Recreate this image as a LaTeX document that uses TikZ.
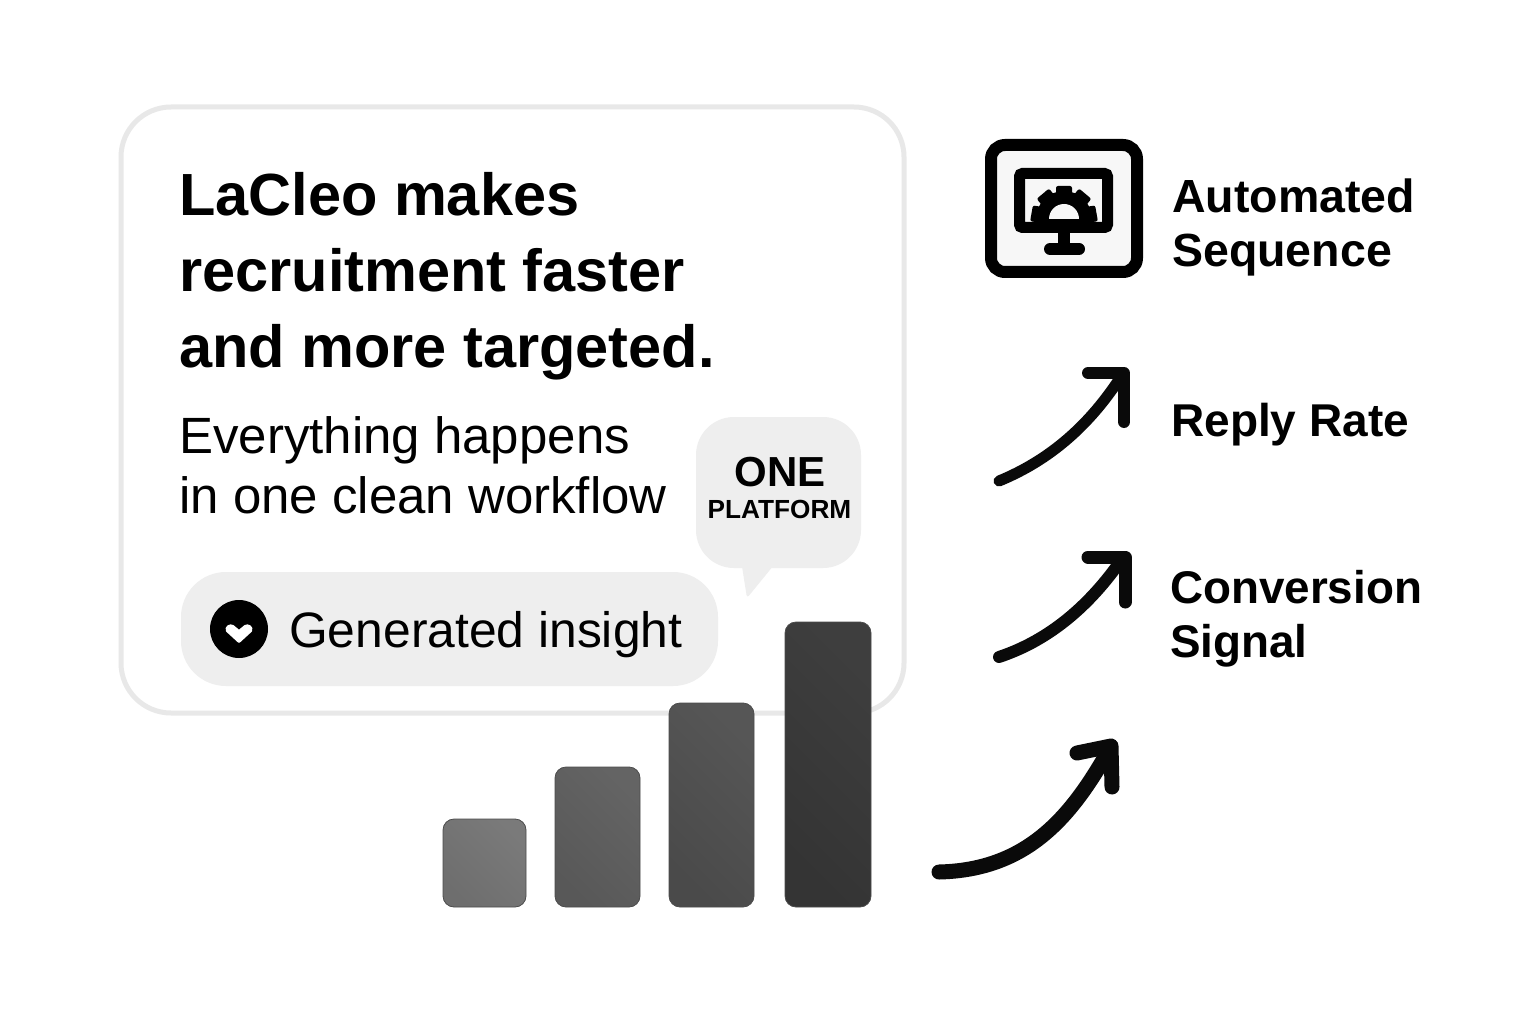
\documentclass[tikz,border=0pt]{standalone}
\usepackage{fontspec}
\setmainfont{Liberation Sans}
\usetikzlibrary{positioning}
\usetikzlibrary{calc}

\definecolor{cardline}{HTML}{E8E8E8}
\definecolor{softfill}{HTML}{EEEEEE}
\definecolor{iconfill}{HTML}{F7F7F7}
\definecolor{inkblack}{HTML}{0A0A0A}

\tikzset{
  headtext/.style={inner sep=0pt, anchor=north west, align=left, font=\fontsize{59.5}{76}\selectfont\bfseries},
  subtext/.style={inner sep=0pt, anchor=north west, align=left, font=\fontsize{51}{60}\selectfont},
  sidetext/.style={inner sep=0pt, anchor=north west, align=left, font=\fontsize{46.5}{54}\selectfont\bfseries},
  softbox/.style={fill=softfill, inner sep=0pt},
  trendline/.style={draw=inkblack, line cap=round, line join=round},
}

\begin{document}
\begin{tikzpicture}[x=1pt, y=-1pt]

	\useasboundingbox (0,0) rectangle (1536,1024);
	\fill[white] (0,0) rectangle (1536,1024);

	% card
	\draw[cardline, line width=5pt, fill=white, rounded corners=50pt] (121,107) rectangle (904,713);

	\node[headtext] (headline) at (179,172) {LaCleo makes\\recruitment faster\\and more targeted.};
	\node[subtext] (subline) at (179,416) {Everything happens\\in one clean workflow};

	% pill
	\node[softbox, rounded corners=45pt, minimum width=537pt, minimum height=114pt] (pill) at (449.5,629) {};
	\node[circle, fill=black, minimum width=58pt, inner sep=0pt] (badge) at (239,629) {};
	\fill[white, draw=white, line width=2pt, line join=round] (239,642) -- (227,631)
		.. controls (225,627) and (230,624) .. (233,626) -- (239,631) -- (245,626)
		.. controls (248,624) and (253,627) .. (251,631) -- cycle;
	\node[inner sep=0pt, anchor=base west, font=\fontsize{49.8}{60}\selectfont] (insight) at (289,647) {Generated insight};

	% speech bubble
	\fill[softfill, rounded corners=3pt] (741,560) -- (747,598) -- (778,560) -- cycle;
	\node[softbox, rounded corners=38pt, minimum width=165pt, minimum height=151pt] (bubble) at (778.5,492.5) {};
	\node[inner sep=0pt, anchor=base, font=\fontsize{42}{48}\selectfont\bfseries] (one) at (780,486) {ONE};
	\node[inner sep=0pt, anchor=base, font=\fontsize{26.2}{32}\selectfont\bfseries] (platform) at (779.5,518) {PLATFORM};

	% bars
	\foreach \xa/\xb/\ya/\ca/\cb in {443/526/819/7A7A7A/6E6E6E, 555/640/767/646464/585858, 669/754/703/565656/4A4A4A, 785/871/622/3E3E3E/343434} {
		\definecolor{barlo}{HTML}{\ca}
		\definecolor{barhi}{HTML}{\cb}
		\shade[left color=barhi, right color=barlo, shading angle=135, rounded corners=11pt] (\xa,\ya) rectangle (\xb,907);
		\draw[black!70, line width=0.8pt, rounded corners=11pt] (\xa,\ya) rectangle (\xb,907);
	}

	% icon
	\draw[black, line width=12pt, fill=iconfill, rounded corners=14pt] (991,145) rectangle (1137,272);
	\begin{scope}
		\clip (1014,168) rectangle (1113,233);
		\fill[black] (1064,219) circle (28pt);
		\fill[black] (1034,219) rectangle (1094,228);
		\foreach \ang in {10,50,90,130,170} {
			\fill[black, rotate around={90-\ang:(1064,219)}, rounded corners=2pt] (1056,186) rectangle (1072,205);
		}
	\end{scope}
	\fill[iconfill] (1049,219) arc[start angle=180, end angle=0, radius=15pt] -- cycle;
	\draw[black, line width=11pt, rounded corners=3pt] (1019.5,173.5) rectangle (1107.5,227.5);
	\fill[black] (1058,232) rectangle (1070,246);
	\draw[black, line width=12pt, line cap=round] (1050,249) -- (1079,249);
	\node[sidetext] (seqlabel) at (1172,179) {Automated\\Sequence};

	% arrows
	\coordinate (up1a) at (999,481);
	\coordinate (up1b) at (1122,375);
	\coordinate (up2a) at (999,657);
	\coordinate (up2b) at (1122,559);
	\coordinate (up3a) at (939,872);
	\coordinate (up3b) at (1110,748);
	\draw[trendline, line width=11pt] (up1a) .. controls (1050,460) and (1090,425) .. (up1b);
	\draw[trendline, line width=12pt] (1088,373) -- (1124,373) -- (1124,422);
	\draw[trendline, line width=12pt] (up2a) .. controls (1050,640) and (1090,605) .. (up2b);
	\draw[trendline, line width=13pt] (1088,557) -- (1125,557) -- (1125,602);
	\draw[trendline, line width=15pt] (up3a) .. controls (1025,870) and (1070,820) .. (up3b);
	\draw[trendline, line width=15pt] (1077,753) -- (1111,746) -- (1112,787);

	\node[inner sep=0pt, anchor=base west, font=\fontsize{46}{54}\selectfont\bfseries] (replylabel) at (1171,436) {Reply Rate};
	\node[inner sep=0pt, anchor=north west, align=left, font=\fontsize{45.8}{54}\selectfont\bfseries] (convlabel) at (1170,570) {Conversion\\Signal};

\end{tikzpicture}
\end{document}
